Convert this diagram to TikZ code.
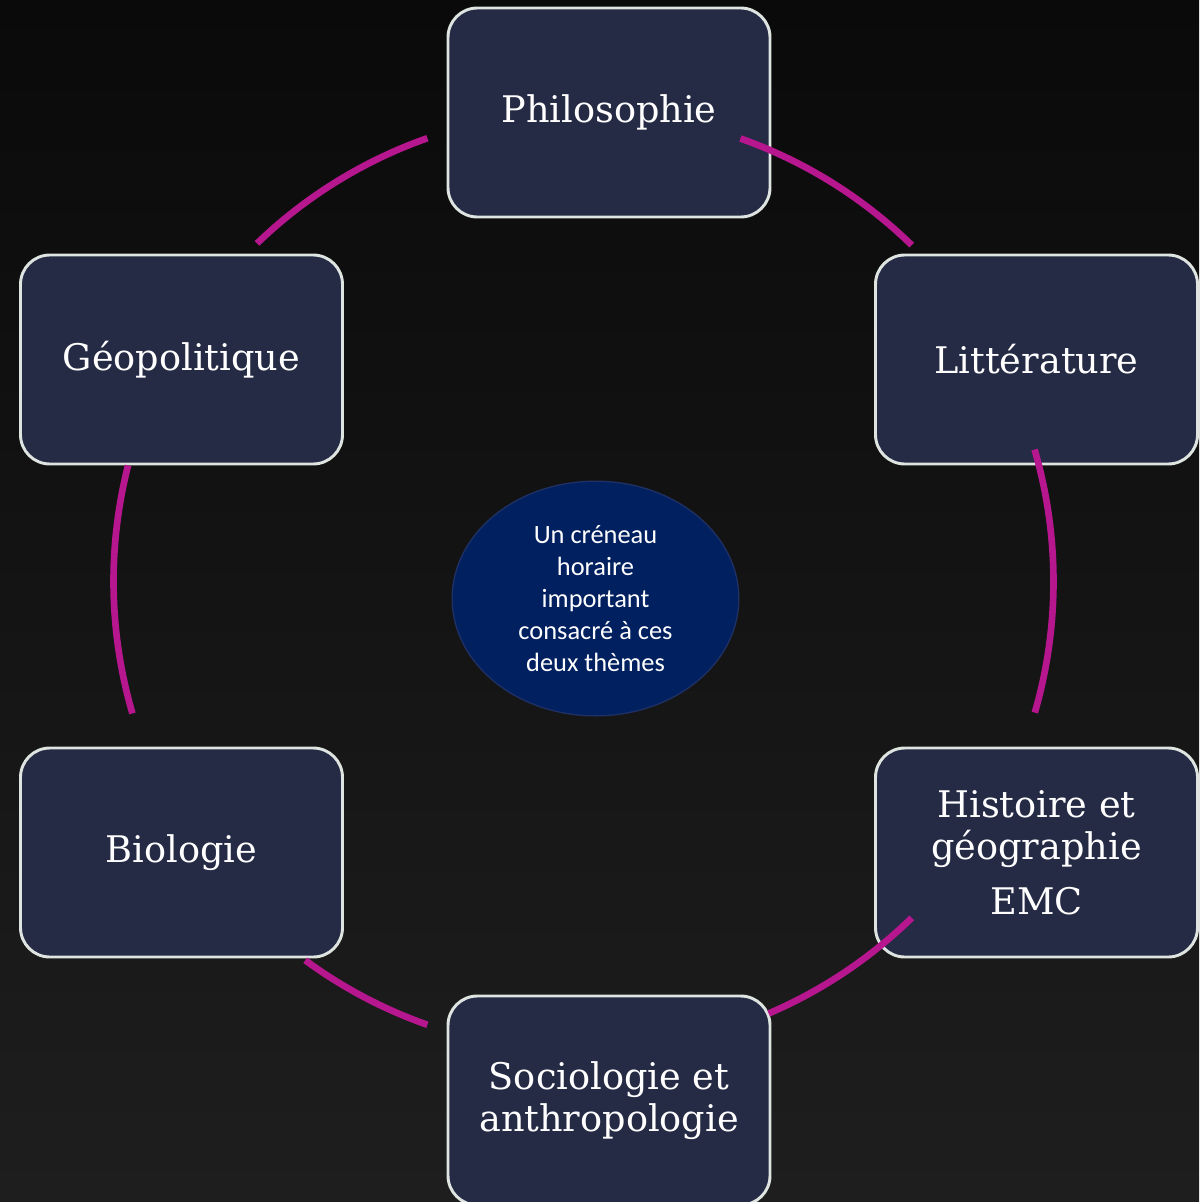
\documentclass[tikz,border=0pt]{standalone}
\usepackage{fontspec}
\usepackage{tikz}
\usetikzlibrary{shapes.geometric}

\newfontfamily\slabfont{DejaVu Serif}
\newfontfamily\calfont{Carlito}

\definecolor{bgtop}{RGB}{10,10,10}
\definecolor{bgbot}{RGB}{30,30,30}
\definecolor{tilefill}{RGB}{37,42,69}
\definecolor{tileline}{RGB}{222,228,224}
\definecolor{ovalfill}{RGB}{0,32,96}
\definecolor{ovalline}{RGB}{30,48,100}
\definecolor{ringcol}{RGB}{182,22,142}

\tikzset{
  tile/.style={draw=tileline, line width=2.2pt, fill=tilefill, rounded corners=22pt,
    minimum width=241.5pt, minimum height=156.75pt, inner sep=0pt,
    text=white, align=center, font=\slabfont\fontsize{27.5}{32}\selectfont},
  oval/.style={ellipse, draw=ovalline, line width=1pt, fill=ovalfill,
    minimum width=215pt, minimum height=176pt, inner sep=0pt},
  ovaltext/.style={text=white, align=center, font=\calfont\fontsize{19.8}{24}\selectfont},
  link/.style={draw=ringcol, line width=5pt}
}

\begin{document}
\begin{tikzpicture}[x=0.75pt,y=0.75pt]

\useasboundingbox (0,0) rectangle (1199,-1202);
\clip (0,0) rectangle (1199,-1202);
\shade[top color=bgtop, bottom color=bgbot] (0,0) rectangle (1199,-1202);

\coordinate (hub) at (583.5,-581.5);

% the six boxes
\node[tile] (philo) at (609,-112.5)    {Philosophie};
\node[tile] (geo)   at (181.5,-359.5)  {Géopolitique};
\node[tile] (litt)  at (1036.5,-359.5) {Littérature};
\node[tile] (bio)   at (181.5,-852.5)  {Biologie};
\node[tile] (histo) at (1036.5,-852.5) {Histoire et\\géographie\\[9pt]EMC};
\node[tile] (socio) at (609,-1100.5)   {Sociologie et\\anthropologie};

% centre
\node[oval] (core) at (595.5,-598.5) {};
\node[ovaltext] (coretext) at (core) {Un créneau\\horaire\\important\\consacré à ces\\deux thèmes};

% ring pieces between the boxes
\foreach \from/\to in {70.5/45.7, 16.3/-16.2, -45.7/-66.8, -109.4/-126.3, -163.7/-194.3, 134.0/109.4}
    \draw[link] (hub) ++(\from:470) arc[start angle=\from, end angle=\to, radius=470];

\end{tikzpicture}
\end{document}
